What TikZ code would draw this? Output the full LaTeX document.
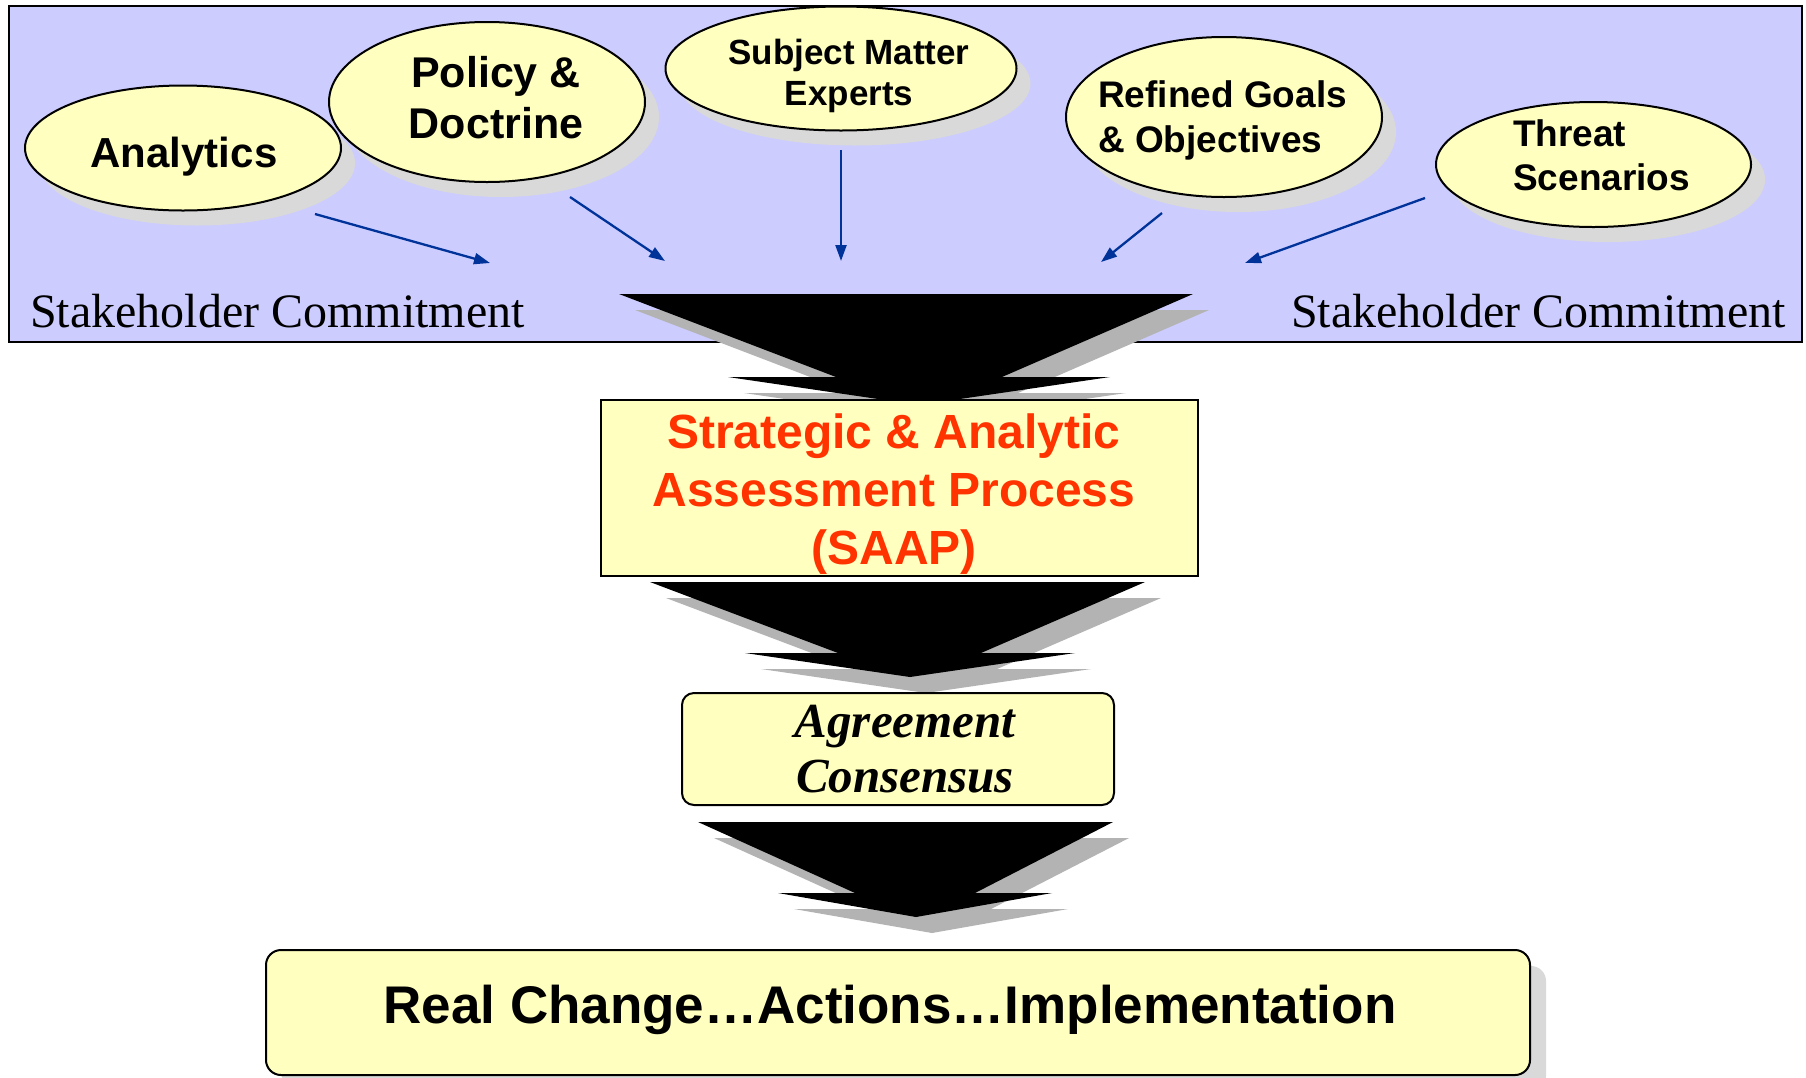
\documentclass[tikz,border=0pt]{standalone}
\usepackage{fontspec}
\setmainfont{Liberation Serif}
\setsansfont{Liberation Sans}
\usetikzlibrary{shapes.geometric,arrows.meta,shadows}
\definecolor{bandc}{RGB}{204,204,255}
\definecolor{pale}{RGB}{255,255,192}
\definecolor{eshadow}{RGB}{217,217,217}
\definecolor{ashadow}{RGB}{179,179,179}
\definecolor{blu}{RGB}{0,51,153}
\definecolor{saapc}{RGB}{255,51,0}
\begin{document}
\begin{tikzpicture}[x=1pt,y=-1pt,
  bubble/.style={ellipse, draw=black, line width=2pt, fill=pale, inner sep=0pt,
    drop shadow={shadow xshift=14pt, shadow yshift=-15pt, opacity=1, fill=eshadow}},
  lbl/.style={inner sep=0pt, font=\sffamily\bfseries},
  feed/.style={draw=blu, line width=2.3pt, -{Triangle[length=16pt,width=11pt]}},
  chevron/.style={fill=black, drop shadow={shadow xshift=16pt, shadow yshift=-16pt, opacity=1, fill=ashadow}},
  stake/.style={font=\rmfamily\fontsize{48}{52}\selectfont, inner sep=0pt},
  box/.style={draw=black, line width=2pt, fill=pale, inner sep=0pt}
]
\useasboundingbox (0,0) rectangle (1806,1077);
\fill[white] (0,0) rectangle (1806,1077);

% band
\draw[line width=2pt, fill=bandc] (9,6) rectangle (1802,342);

% ellipses
\node[bubble, minimum width=316pt, minimum height=125pt] (ana) at (183,148) {};
\node[bubble, minimum width=316pt, minimum height=160pt] (pol) at (487,102) {};
\node[bubble, minimum width=351pt, minimum height=124pt] (sme) at (841,68.5) {};
\node[bubble, minimum width=316pt, minimum height=160pt] (ref) at (1224,117) {};
\node[bubble, minimum width=315pt, minimum height=125pt] (thr) at (1593.5,164.5) {};

\node[lbl, font=\sffamily\bfseries\fontsize{42}{50}\selectfont] (anat) at (184,157) {Analytics};
\node[lbl, font=\sffamily\bfseries\fontsize{43}{51}\selectfont, align=center] (polt) at (496,98) {Policy \&\\Doctrine};
\node[lbl, font=\sffamily\bfseries\fontsize{35}{41.5}\selectfont, align=center] (smet) at (849,76) {Subject Matter\\Experts};
\node[lbl, font=\sffamily\bfseries\fontsize{37}{45}\selectfont, align=left, anchor=west] (reft) at (1098,120) {Refined Goals\\\& Objectives};
\node[lbl, font=\sffamily\bfseries\fontsize{37}{44}\selectfont, align=left, anchor=west] (thrt) at (1513,155.5) {Threat\\Scenarios};

% feed arrows
\coordinate (a1s) at (315,214); \coordinate (a1e) at (490,263);
\coordinate (a2s) at (570,197); \coordinate (a2e) at (665,261);
\coordinate (a3s) at (841,150); \coordinate (a3e) at (841,261);
\coordinate (a4s) at (1162,213); \coordinate (a4e) at (1101,262);
\coordinate (a5s) at (1425,198); \coordinate (a5e) at (1245,263);
\draw[feed] (a1s) -- (a1e);
\draw[feed] (a2s) -- (a2e);
\draw[feed] (a3s) -- (a3e);
\draw[feed] (a4s) -- (a4e);
\draw[feed] (a5s) -- (a5e);

% stakeholder labels
\node[stake, anchor=base west] (skl) at (30,327) {Stakeholder Commitment};
\node[stake, anchor=base east] (skr) at (1786,327) {Stakeholder Commitment};

% chevron 1
\fill[chevron] (619,294) -- (1193,294) -- (1002,377) -- (1110,377) -- (919,405) -- (728,377) -- (836,377) -- cycle;

% SAAP box
\node[box, minimum width=597pt, minimum height=176pt] (saap) at (899.5,488) {};
\node[lbl, align=center, font=\sffamily\bfseries\fontsize{48}{58}\selectfont, text=saapc] (saapt) at (894,494)
  {Strategic \& Analytic\\Assessment Process\\(SAAP)};

% chevron 2
\fill[chevron] (650,582) -- (1145,582) -- (981,653) -- (1075,653) -- (910,677) -- (745,653) -- (838,653) -- cycle;

% agreement box
\node[box, rounded corners=12pt, minimum width=432pt, minimum height=112pt] (agr) at (898,749) {};
\node[lbl, align=center, font=\rmfamily\bfseries\itshape\fontsize{49}{55}\selectfont] (agrt) at (905,749)
  {Agreement\\Consensus};

% chevron 3
\fill[chevron] (698,822) -- (1113,822) -- (975,893) -- (1052,893) -- (916,917) -- (778,893) -- (855,893) -- cycle;

% real change box
\node[box, rounded corners=15pt, minimum width=1264pt, minimum height=125pt,
  drop shadow={shadow xshift=16pt, shadow yshift=-16pt, opacity=1, fill=eshadow}] (real) at (898,1012.5) {};
\node[lbl, font=\sffamily\bfseries\fontsize{53}{60}\selectfont] (realt) at (890,1010)
  {Real Change…Actions…Implementation};
\end{tikzpicture}
\end{document}
